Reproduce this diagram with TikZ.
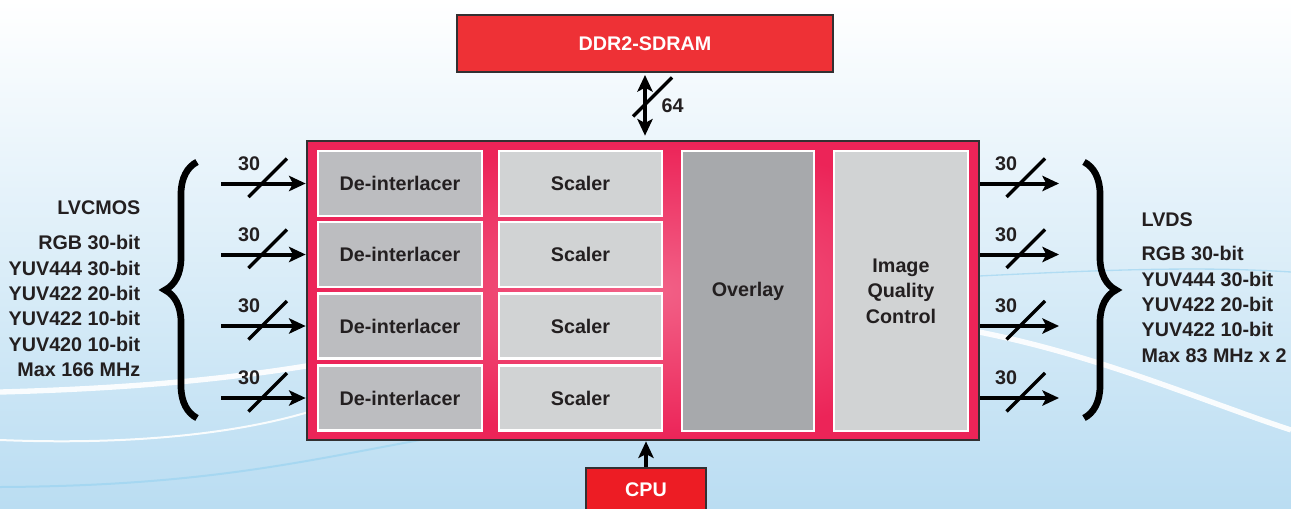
\documentclass[tikz,border=0pt]{standalone}
\usepackage{fontspec}
\setmainfont{Liberation Sans}
\usetikzlibrary{arrows.meta,decorations.pathreplacing,calc}
\definecolor{txtdark}{RGB}{35,31,32}
\definecolor{borderdark}{RGB}{50,48,50}
\definecolor{ddrred}{RGB}{238,49,54}
\definecolor{cpured}{RGB}{237,28,36}
\definecolor{pinkdeep}{RGB}{236,36,88}
\definecolor{pinklight}{RGB}{242,98,136}
\definecolor{deintgray}{RGB}{188,189,192}
\definecolor{scalgray}{RGB}{209,211,212}
\definecolor{overgray}{RGB}{167,169,172}
\definecolor{bgmid}{RGB}{222,239,250}
\definecolor{bgblue}{RGB}{186,221,242}
\definecolor{wavblue}{RGB}{150,210,240}

\begin{document}
\begin{tikzpicture}[x=0.75pt,y=0.75pt,yscale=-1,xscale=1,
    font=\fontsize{14.8}{19}\selectfont\bfseries,
    every node/.style={text=txtdark},
    blockbox/.style={draw=white, line width=1.8pt, minimum height=48.75pt, inner sep=0pt},
    redbox/.style={draw=borderdark, line width=1.5pt, text=white, inner sep=0pt},
    bus/.style={line width=3pt, -{Stealth[length=12.5pt,width=11.5pt,inset=3pt]}},
    dbus/.style={line width=3pt, {Stealth[length=12.5pt,width=11.5pt,inset=3pt]}-{Stealth[length=12.5pt,width=11.5pt,inset=3pt]}},
    busmark/.style={line width=2.6pt},
    bracemark/.style={line width=5pt, decorate, decoration={brace, amplitude=24pt}}]
  \useasboundingbox (0,0) rectangle (1291,508);

  %Background
  \shade[top color=white, middle color=bgmid, bottom color=bgblue] (0,0) rectangle (1291,508);
  %Waves
  \draw[white, line width=4pt, opacity=0.9] (0,392) .. controls (150,388) and (250,376) .. (330,362);
  \draw[white, line width=1.5pt, opacity=0.9] (0,440) .. controls (150,446) and (260,430) .. (330,405);
  \draw[wavblue, line width=1.5pt, opacity=0.6] (0,487) .. controls (200,486) and (300,462) .. (420,440);
  \draw[white, line width=4pt, opacity=0.9] (979,332) .. controls (1100,356) and (1200,400) .. (1291,430);
  \draw[wavblue, line width=1pt, opacity=0.6] (979,276) .. controls (1100,270) and (1200,266) .. (1291,272);

  %Memory
  \node[redbox, fill=ddrred, minimum width=282pt, minimum height=42.75pt] (ddr) at (645,43.5) {DDR2-SDRAM};

  %Core
  \node[draw=borderdark, line width=2pt, shade, inner color=pinklight, outer color=pinkdeep,
        minimum width=504pt, minimum height=224.25pt] (core) at (643,290.5) {};

  %Memory bus
  \draw[dbus, shorten <=1.5pt, shorten >=3pt] (ddr.south) -- (ddr.south |- core.north);
  \draw[busmark] (644,105.5) ++(-11,11) -- ++(39,-39);
  \node[anchor=west] (memwidth) at (657,106) {64};

  %Channels
  \foreach \y [count=\i] in {183.5,254.5,326,398} {
    \node[blockbox, fill=deintgray, minimum width=122.6pt] (deint\i) at (400,\y) {De-interlacer};
    \node[blockbox, fill=scalgray, minimum width=122.25pt] (scal\i) at (580.5,\y) {Scaler};
    % Input bus
    \coordinate (in\i) at (221,\y);
    \draw[bus] (in\i) -- (in\i -| core.west);
    \draw[busmark] (262,\y) ++(-13.5,13.5) -- ++(38.5,-38.5);
    \node (inwidth\i) at (249,\y-20) {30};
    % Output bus
    \coordinate (out\i) at (1059,\y);
    \draw[bus] (out\i -| core.east) -- (out\i);
    \draw[busmark] (1020,\y) ++(-13.5,13.5) -- ++(38.5,-38.5);
    \node (outwidth\i) at (1006,\y-20) {30};
  }

  \node[blockbox, fill=overgray, minimum width=99pt, minimum height=210pt] (overlay) at (748,291) {Overlay};
  \node[blockbox, fill=scalgray, minimum width=100.5pt, minimum height=210pt, align=center] (iqc) at (901,291) {Image\\Quality\\Control};

  %CPU
  \node[redbox, fill=cpured, minimum width=90pt, minimum height=33pt] (cpu) at (646,490) {CPU};
  \draw[bus] (cpu) -- (cpu |- core.south);

  %Braces
  \coordinate (lbrlo) at (197,418);
  \coordinate (lbrhi) at (197,162);
  \draw[bracemark] (lbrlo) -- (lbrhi);
  \coordinate (rbrhi) at (1084,162);
  \coordinate (rbrlo) at (1084,418);
  \draw[bracemark] (rbrhi) -- (rbrlo);

  % Text Node
  \node[anchor=east] (lvcmos) at (145,208) {LVCMOS};
  % Text Node
  \node[anchor=east, align=right] (lvcmosfmt) at (145,306) {RGB 30-bit\\YUV444 30-bit\\YUV422 20-bit\\YUV422 10-bit\\YUV420 10-bit\\Max 166 MHz};
  % Text Node
  \node[anchor=west] (lvds) at (1137,220) {LVDS};
  % Text Node
  \node[anchor=west, align=left] (lvdsfmt) at (1137,304.5) {RGB 30-bit\\YUV444 30-bit\\YUV422 20-bit\\YUV422 10-bit\\Max 83 MHz x 2};
\end{tikzpicture}
\end{document}
